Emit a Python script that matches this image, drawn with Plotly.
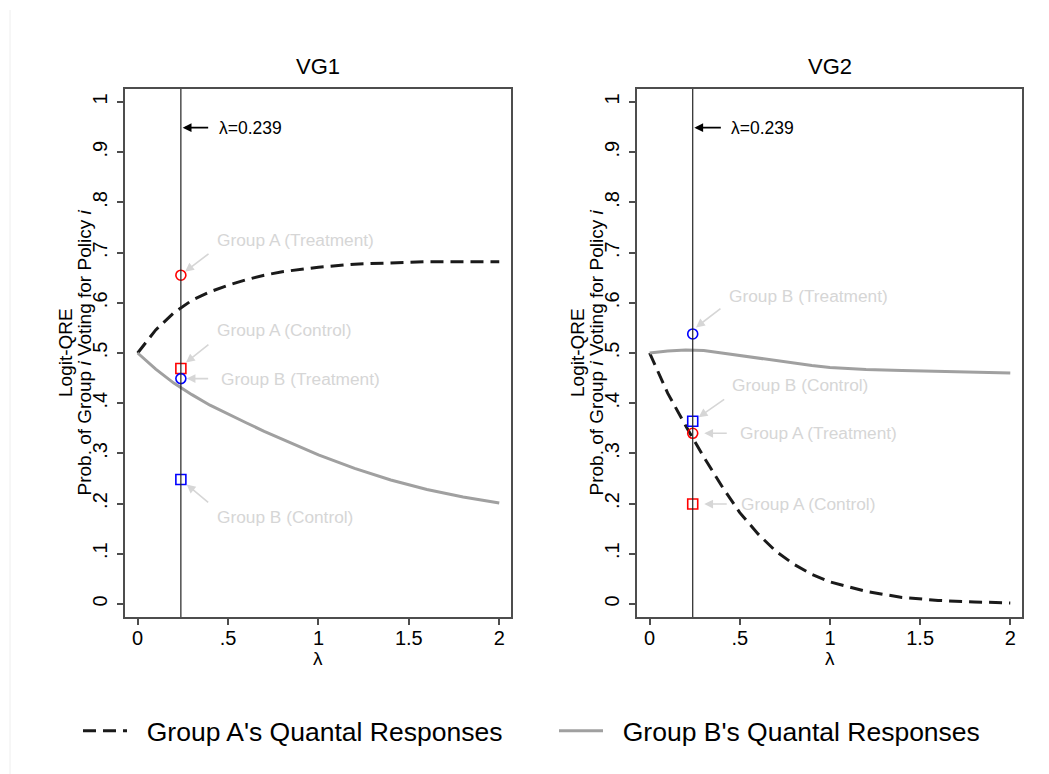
import plotly.graph_objects as go

W, H = 1049, 774
FONT = "Liberation Sans, Arial, sans-serif"

# ---------------- data ----------------
lam_star = 0.239
lam_grid = [0, 0.1, 0.2, 0.3, 0.4, 0.5, 0.6, 0.7, 0.8, 0.9, 1.0, 1.2, 1.4, 1.6, 1.8, 2.0]

vg1_groupA = [0.500, 0.546, 0.580, 0.605, 0.622, 0.635, 0.646, 0.655, 0.662, 0.667, 0.671, 0.677, 0.680, 0.682, 0.682, 0.682]
vg1_groupB = [0.500, 0.468, 0.440, 0.417, 0.396, 0.378, 0.361, 0.344, 0.328, 0.312, 0.297, 0.270, 0.247, 0.228, 0.213, 0.201]

vg2_groupA = [0.500, 0.420, 0.355, 0.293, 0.235, 0.182, 0.140, 0.105, 0.079, 0.059, 0.044, 0.025, 0.013, 0.007, 0.004, 0.002]
vg2_groupB = [0.500, 0.504, 0.506, 0.505, 0.500, 0.495, 0.489, 0.484, 0.479, 0.475, 0.471, 0.467, 0.465, 0.463, 0.461, 0.460]

# observed frequencies at lambda*
vg1_obs = {"A_treat": 0.655, "A_ctrl": 0.469, "B_treat": 0.449, "B_ctrl": 0.248}
vg2_obs = {"A_treat": 0.340, "A_ctrl": 0.199, "B_treat": 0.538, "B_ctrl": 0.364}

y_ticks = [0, 0.1, 0.2, 0.3, 0.4, 0.5, 0.6, 0.7, 0.8, 0.9, 1.0]
y_ticklabels = ["0", ".1", ".2", ".3", ".4", ".5", ".6", ".7", ".8", ".9", "1"]
x_ticks = [0, 0.5, 1, 1.5, 2]
x_ticklabels = ["0", ".5", "1", "1.5", "2"]

labels = {"A_treat": "Group A (Treatment)", "A_ctrl": "Group A (Control)",
          "B_treat": "Group B (Treatment)", "B_ctrl": "Group B (Control)"}

# ---------------- figure ----------------
fig = go.Figure()

LINE_A = dict(color="#1a1a1a", width=3, dash="13px,7px")
LINE_B = dict(color="#a0a0a0", width=3)
NB = "\u00a0\u00a0"

panels = [("x", "y", vg1_groupA, vg1_groupB, vg1_obs),
          ("x2", "y2", vg2_groupA, vg2_groupB, vg2_obs)]

for i, (xa, ya, ga, gb, obs) in enumerate(panels):
    fig.add_trace(go.Scatter(x=lam_grid, y=ga, mode="lines", line=LINE_A,
                             name=NB + "Group A's Quantal Responses", showlegend=(i == 0),
                             xaxis=xa, yaxis=ya, hoverinfo="skip"))
    fig.add_trace(go.Scatter(x=lam_grid, y=gb, mode="lines", line=LINE_B,
                             name=NB + "Group B's Quantal Responses", showlegend=(i == 0),
                             xaxis=xa, yaxis=ya, hoverinfo="skip"))
    for key, sym, col in [("A_treat", "circle-open", "#ff0000"),
                          ("A_ctrl", "square-open", "#ff0000"),
                          ("B_treat", "circle-open", "#0000ff"),
                          ("B_ctrl", "square-open", "#0000ff")]:
        fig.add_trace(go.Scatter(x=[lam_star], y=[obs[key]], mode="markers",
                                 marker=dict(symbol=sym, size=10, color=col,
                                             line=dict(color=col, width=1.6)),
                                 showlegend=False, xaxis=xa, yaxis=ya,
                                 name=labels[key]))
    # vertical line at lambda*
    fig.add_shape(type="line", xref=xa, yref=f"{ya} domain", x0=lam_star, x1=lam_star,
                  y0=0, y1=1, line=dict(color="#222222", width=1.2))

# ---------------- annotations ----------------
GRAY = "#d6d6d6"
ann = []

def arrow(xa, ya, x, y, ax, ay, color, width=1.6):
    ann.append(dict(xref=xa, yref=ya, x=x, y=y, ax=ax, ay=ay, text="",
                    showarrow=True, arrowhead=2, arrowsize=1.1, arrowwidth=width,
                    arrowcolor=color, standoff=0, startstandoff=0))

def label(xa, ya, x, y, text, color, size=17.3):
    ann.append(dict(xref=xa, yref=ya, x=x, y=y, text=text, showarrow=False,
                    xanchor="left", yanchor="middle",
                    font=dict(family=FONT, size=size, color=color)))

# VG1
arrow("x", "y", 0.249, 0.949, 27, 0, "#000000", 1.6)
label("x", "y", 0.440, 0.949, "λ=0.239", "#000000", 17.5)
arrow("x", "y", 0.262, vg1_obs["A_treat"] + 0.007, 25, -19, GRAY)
label("x", "y", 0.4275, 0.725, labels["A_treat"], GRAY)
arrow("x", "y", 0.267, vg1_obs["A_ctrl"] + 0.012, 24, -19, GRAY)
label("x", "y", 0.4275, 0.546, labels["A_ctrl"], GRAY)
arrow("x", "y", 0.271, vg1_obs["B_treat"], 23, 0, GRAY)
label("x", "y", 0.451, vg1_obs["B_treat"], labels["B_treat"], GRAY)
arrow("x", "y", 0.271, vg1_obs["B_ctrl"] - 0.010, 23, 19, GRAY)
label("x", "y", 0.4275, 0.174, labels["B_ctrl"], GRAY)

# VG2
arrow("x2", "y2", 0.248, 0.949, 28, 0, "#000000", 1.6)
label("x2", "y2", 0.438, 0.949, "λ=0.239", "#000000", 17.5)
arrow("x2", "y2", 0.257, vg2_obs["B_treat"] + 0.013, 26, -20, GRAY)
label("x2", "y2", 0.429, 0.614, labels["B_treat"], GRAY)
arrow("x2", "y2", 0.272, vg2_obs["B_ctrl"] + 0.008, 27, -19, GRAY)
label("x2", "y2", 0.444, 0.436, labels["B_ctrl"], GRAY)
arrow("x2", "y2", 0.303, vg2_obs["A_treat"], 24, 0, GRAY)
label("x2", "y2", 0.488, vg2_obs["A_treat"], labels["A_treat"], GRAY)
arrow("x2", "y2", 0.303, vg2_obs["A_ctrl"], 24, 0, GRAY)
label("x2", "y2", 0.494, vg2_obs["A_ctrl"], labels["A_ctrl"], GRAY)

# panel titles
for cx, t in [(318, "VG1"), (829.5, "VG2")]:
    ann.append(dict(xref="paper", yref="paper", x=cx / W, y=1 - 66 / H, text=t,
                    showarrow=False, xanchor="center", yanchor="middle",
                    font=dict(family=FONT, size=22, color="#000000")))

# axis titles
for off in [0, 512]:
    ann.append(dict(xref="paper", yref="paper", x=(65 + off) / W, y=1 - 353 / H,
                    text="Logit-QRE", textangle=-90, showarrow=False,
                    xanchor="center", yanchor="middle",
                    font=dict(family=FONT, size=19, color="#000000")))
    ann.append(dict(xref="paper", yref="paper", x=(83.5 + off) / W, y=1 - 353 / H,
                    text="Prob. of Group <i>i</i> Voting for Policy <i>i</i>",
                    textangle=-90, showarrow=False, xanchor="center", yanchor="middle",
                    font=dict(family=FONT, size=19, color="#000000")))
    ann.append(dict(xref="paper", yref="paper", x=(318 + off) / W, y=1 - 658 / H,
                    text="λ", showarrow=False, xanchor="center", yanchor="middle",
                    font=dict(family=FONT, size=19, color="#000000")))

# faint outer border
fig.add_shape(type="line", xref="paper", yref="paper", x0=10 / W, x1=10 / W,
              y0=0, y1=1 - 10 / H, line=dict(color="#eeeeee", width=1))

AX_COL = "#4d4d4d"
xax = dict(range=[-0.07, 2.065], tickvals=x_ticks, ticktext=x_ticklabels,
           showline=True, mirror=True, linecolor=AX_COL, linewidth=1.5,
           ticks="outside", ticklen=6, tickwidth=1.5, tickcolor=AX_COL,
           showgrid=False, zeroline=False, ticklabelstandoff=-4,
           tickfont=dict(family=FONT, size=20, color="#000000"))
yax = dict(range=[-0.026, 1.026], tickvals=y_ticks, ticktext=y_ticklabels,
           showline=True, mirror=True, linecolor=AX_COL, linewidth=1.5,
           ticks="outside", ticklen=6, tickwidth=1.5, tickcolor=AX_COL,
           showgrid=False, zeroline=False, tickangle=-90, ticklabelstandoff=2,
           tickfont=dict(family=FONT, size=20, color="#000000"),
           domain=[1 - 617 / H, 1 - 89 / H])

fig.update_layout(
    width=W, height=H,
    margin=dict(l=0, r=0, t=0, b=0),
    paper_bgcolor="white", plot_bgcolor="white",
    font=dict(family=FONT, color="#000000"),
    xaxis=dict(xax, domain=[125 / W, 511 / W], anchor="y"),
    yaxis=dict(yax, anchor="x"),
    xaxis2=dict(xax, domain=[637 / W, 1022 / W], anchor="y2"),
    yaxis2=dict(yax, anchor="x2"),
    annotations=ann,
    showlegend=True,
    legend=dict(orientation="h", x=78 / W, y=1 - 731 / H, xanchor="left", yanchor="middle",
                font=dict(family=FONT, size=26.5, color="#000000"),
                itemwidth=44, entrywidth=417, entrywidthmode="pixels",
                bgcolor="rgba(0,0,0,0)"),
)

fig.write_html("out.html")
